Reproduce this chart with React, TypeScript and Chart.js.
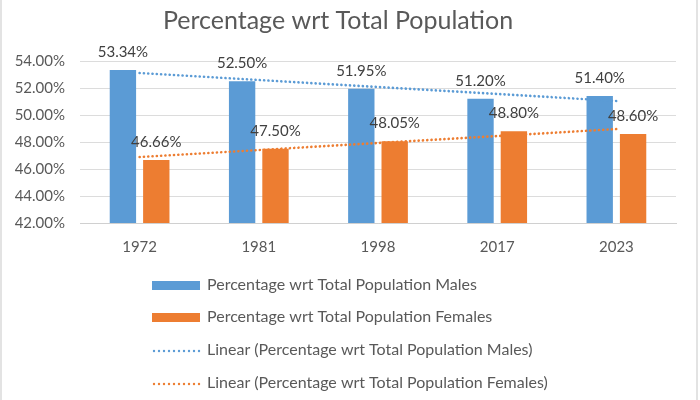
import React, { useEffect, useRef } from "react";
import { Chart, registerables } from "chart.js";

Chart.register(...registerables);

const years = ["1972", "1981", "1998", "2017", "2023"];
const males = [53.34, 52.5, 51.95, 51.2, 51.4];
const females = [46.66, 47.5, 48.05, 48.8, 48.6];
// linear trend endpoints (first and last census year)
const malesTrend = [53.11, null, null, null, 51.04];
const femalesTrend = [46.89, null, null, null, 48.96];
const yTicks = [42, 44, 46, 48, 50, 52, 54];

const BLUE = "#5b9bd5";
const ORANGE = "#ed7d31";
const TEXT = "#595959";
const FONT = "Lato, 'Open Sans', sans-serif";

const legendItems = [
  { label: "Percentage wrt Total Population Males", color: BLUE, dotted: false },
  { label: "Percentage wrt Total Population Females", color: ORANGE, dotted: false },
  { label: "Linear (Percentage wrt Total Population Males)", color: BLUE, dotted: true },
  { label: "Linear (Percentage wrt Total Population Females)", color: ORANGE, dotted: true },
];

const frame = {
  id: "frame",
  beforeDraw(chart: any) {
    const { ctx, width, height } = chart;
    ctx.save();
    ctx.fillStyle = "#ffffff";
    ctx.fillRect(0, 0, width, height);
    ctx.fillStyle = "#e3e3e3";
    ctx.fillRect(0, 0, 2, height);
    ctx.fillRect(width - 4, 0, 2, height);
    ctx.restore();
  },
};

const valueLabels = {
  id: "valueLabels",
  afterDatasetsDraw(chart: any) {
    const { ctx } = chart;
    ctx.save();
    ctx.font = `15px ${FONT}`;
    ctx.fillStyle = "#404040";
    ctx.textAlign = "center";
    ctx.textBaseline = "middle";
    chart.data.datasets.forEach((ds: any, di: number) => {
      if (ds.type !== "bar") return;
      const meta = chart.getDatasetMeta(di);
      meta.data.forEach((el: any, i: number) => {
        ctx.fillText(ds.data[i].toFixed(2) + "%", el.x, el.y - 18);
      });
    });
    ctx.restore();
  },
};

const stackedLegend = {
  id: "stackedLegend",
  afterDraw(chart: any) {
    const { ctx, chartArea } = chart;
    const rows = [62, 94, 127, 160];
    const x0 = 152;
    ctx.save();
    ctx.font = `16px ${FONT}`;
    ctx.textBaseline = "middle";
    legendItems.forEach((it, i) => {
      const y = chartArea.bottom + rows[i];
      if (it.dotted) {
        ctx.fillStyle = it.color;
        for (let k = 0; k < 10; k++) {
          ctx.beginPath();
          ctx.arc(x0 + 2 + k * 5, y + 1, 1.2, 0, Math.PI * 2);
          ctx.fill();
        }
      } else {
        ctx.fillStyle = it.color;
        ctx.fillRect(x0, y - 4, 48, 9);
      }
      ctx.fillStyle = TEXT;
      ctx.fillText(it.label, 207, y);
    });
    ctx.restore();
  },
};

export default function App() {
  const ref = useRef<HTMLCanvasElement | null>(null);

  useEffect(() => {
    document.body.style.margin = "0";
    if (!ref.current) return;
    const trendStyle = {
      type: "line",
      borderWidth: 2.6,
      borderDash: [0.1, 4.2],
      borderCapStyle: "round",
      pointRadius: 0,
      spanGaps: true,
      order: 0,
    };
    const chart = new Chart(ref.current, {
      type: "bar",
      data: {
        labels: years,
        datasets: [
          {
            ...trendStyle,
            label: "Linear (Percentage wrt Total Population Males)",
            data: malesTrend,
            borderColor: BLUE,
          } as any,
          {
            ...trendStyle,
            label: "Linear (Percentage wrt Total Population Females)",
            data: femalesTrend,
            borderColor: ORANGE,
          } as any,
          {
            type: "bar",
            label: "Percentage wrt Total Population Males",
            data: males,
            backgroundColor: BLUE,
            categoryPercentage: 0.56,
            barPercentage: 0.79,
            order: 1,
          },
          {
            type: "bar",
            label: "Percentage wrt Total Population Females",
            data: females,
            backgroundColor: ORANGE,
            categoryPercentage: 0.56,
            barPercentage: 0.79,
            order: 1,
          },
        ],
      },
      options: {
        animation: false,
        responsive: true,
        maintainAspectRatio: false,
        layout: { padding: { left: 0, right: 24, top: 0, bottom: 137 } },
        plugins: {
          legend: { display: false },
          tooltip: { enabled: false },
          title: {
            display: true,
            text: "Percentage wrt Total Population",
            color: TEXT,
            font: { family: FONT, size: 25, weight: "normal" },
            padding: { top: 6, bottom: 25 },
          },
        },
        scales: {
          x: {
            grid: { display: false, drawTicks: false },
            border: { color: "#d0d0d0" },
            ticks: { color: TEXT, font: { family: FONT, size: 15 }, padding: 15 },
            afterFit: (s: any) => {
              s.height = 40;
            },
          },
          y: {
            min: 42,
            max: 54,
            afterBuildTicks: (s: any) => {
              s.ticks = yTicks.map((v) => ({ value: v }));
            },
            grid: { color: "#dcdcdc", drawTicks: false },
            border: { display: false },
            ticks: {
              color: TEXT,
              font: { family: FONT, size: 15 },
              padding: 15,
              callback: (v: any) => Number(v).toFixed(2) + "%",
            },
            afterFit: (s: any) => {
              s.width = 80;
            },
          },
        },
      },
      plugins: [frame, valueLabels, stackedLegend],
    });
    return () => chart.destroy();
  }, []);

  return (
    <div style={{ width: 700, height: 400, position: "relative" }}>
      <canvas ref={ref} />
    </div>
  );
}
